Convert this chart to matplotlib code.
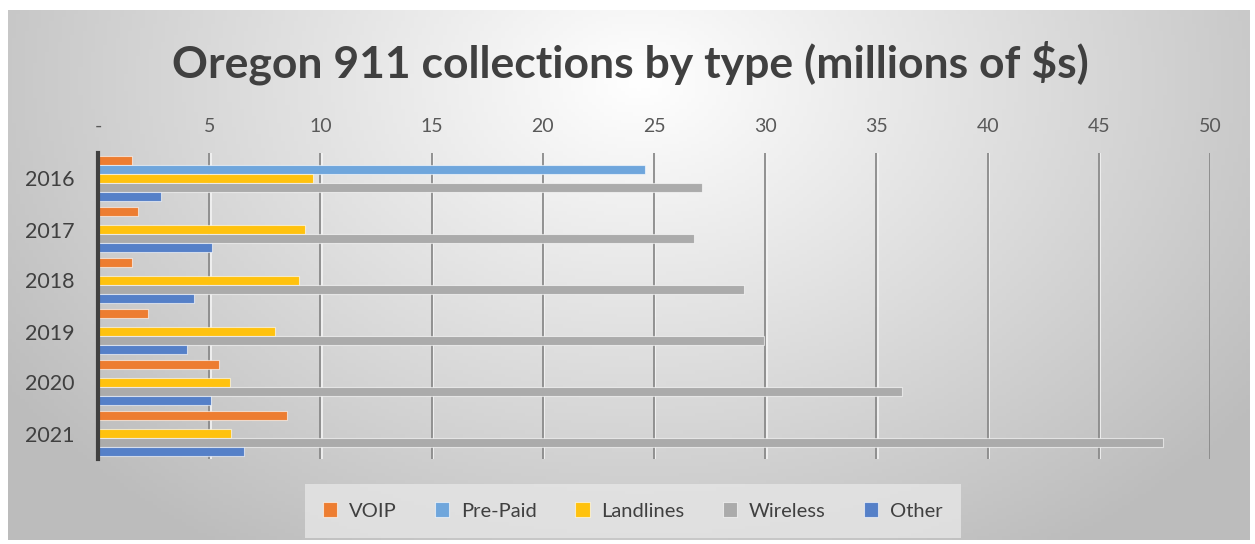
import numpy as np
import matplotlib.pyplot as plt

# Data (millions of $)
years = ['2016', '2017', '2018', '2019', '2020', '2021']
series = ['VOIP', 'Pre-Paid', 'Landlines', 'Wireless', 'Other']
voip = [1.53, 1.78, 1.53, 2.26, 5.43, 8.51]
prepaid = [24.6, 0, 0, 0, 0, 0]
landlines = [9.68, 9.32, 9.02, 7.94, 5.95, 5.96]
wireless = [27.17, 26.81, 29.05, 29.95, 36.17, 47.9]
other = [2.82, 5.11, 4.33, 4.02, 5.06, 6.55]
colors = ['#ED7D31', '#6FA6DC', '#FFC20E', '#ABABAB', '#5580C8']
tick_labels = ['-', '5', '10', '15', '20', '25', '30', '35', '40', '45', '50']

plt.rcParams['font.family'] = ['Lato', 'DejaVu Sans']

W, H = 1255, 544
fig = plt.figure(figsize=(W / 100, H / 100), dpi=100)
fig.patch.set_facecolor('white')

# background gradient of the chart area
bg = fig.add_axes([8 / W, 4 / H, 1242 / W, 530 / H])
xx, yy = np.meshgrid(np.linspace(8, 1250, 300), np.linspace(10, 540, 150))
d = np.sqrt(((xx - 640) / 760) ** 2 + ((yy - 80) / 560) ** 2)
v = np.clip(1.0 - 0.26 * d, 0.74, 1.0)
bg.imshow(np.dstack([v, v, v]), aspect='auto', extent=[0, 1, 0, 1])
bg.axis('off')

ax = fig.add_axes([98 / W, 1 - 459 / H, 1112 / W, 306 / H])
ax.patch.set_alpha(0)

vals = [voip, prepaid, landlines, wireless, other]
y = np.arange(len(years))
step = 0.176
for j, (name, v_, c) in enumerate(zip(series, vals, colors)):
    ax.barh(y + (j - 2) * step, v_, height=0.16, color=c, label=name,
            edgecolor=(1, 1, 1, 0.6), linewidth=0.8, zorder=3)

ax.set_xlim(0, 50)
ax.set_ylim(len(years) - 0.5, -0.5)
ax.set_xticks(np.arange(0, 51, 5))
ax.set_xticklabels(tick_labels)
ax.xaxis.tick_top()
ax.tick_params(axis='x', length=0, pad=13, labelsize=14, labelcolor='#595959')
ax.set_yticks(y)
ax.set_yticklabels(years)
ax.tick_params(axis='y', length=0, pad=17, labelsize=15.5, labelcolor='#404040')
for x in range(5, 51, 5):
    ax.axvline(x + 0.06, color='#f4f4f4', lw=1.2, zorder=1)
    ax.axvline(x, color='#8a8a8a', lw=1.3, zorder=1)
for s in ['top', 'right', 'bottom']:
    ax.spines[s].set_visible(False)
ax.spines['left'].set_color('#404040')
ax.spines['left'].set_linewidth(3)
ax.spines['left'].set_zorder(5)

fig.text(0.502, 1 - 63 / H, 'Oregon 911 collections by type (millions of $s)',
         ha='center', va='center', fontsize=32, fontweight='bold', color='#404040')

leg = fig.legend(loc='center', bbox_to_anchor=(633 / W, 1 - 511 / H), ncol=5,
                 frameon=True, fontsize=14.5, handlelength=0.7, handleheight=0.7,
                 columnspacing=1.9, handletextpad=0.6, borderpad=0.6)
leg.get_frame().set_facecolor('#e6e6e6')
leg.get_frame().set_edgecolor('none')
leg.get_frame().set_boxstyle('square')
for t in leg.get_texts():
    t.set_color('#404040')

fig.savefig('out.png', dpi=100)
